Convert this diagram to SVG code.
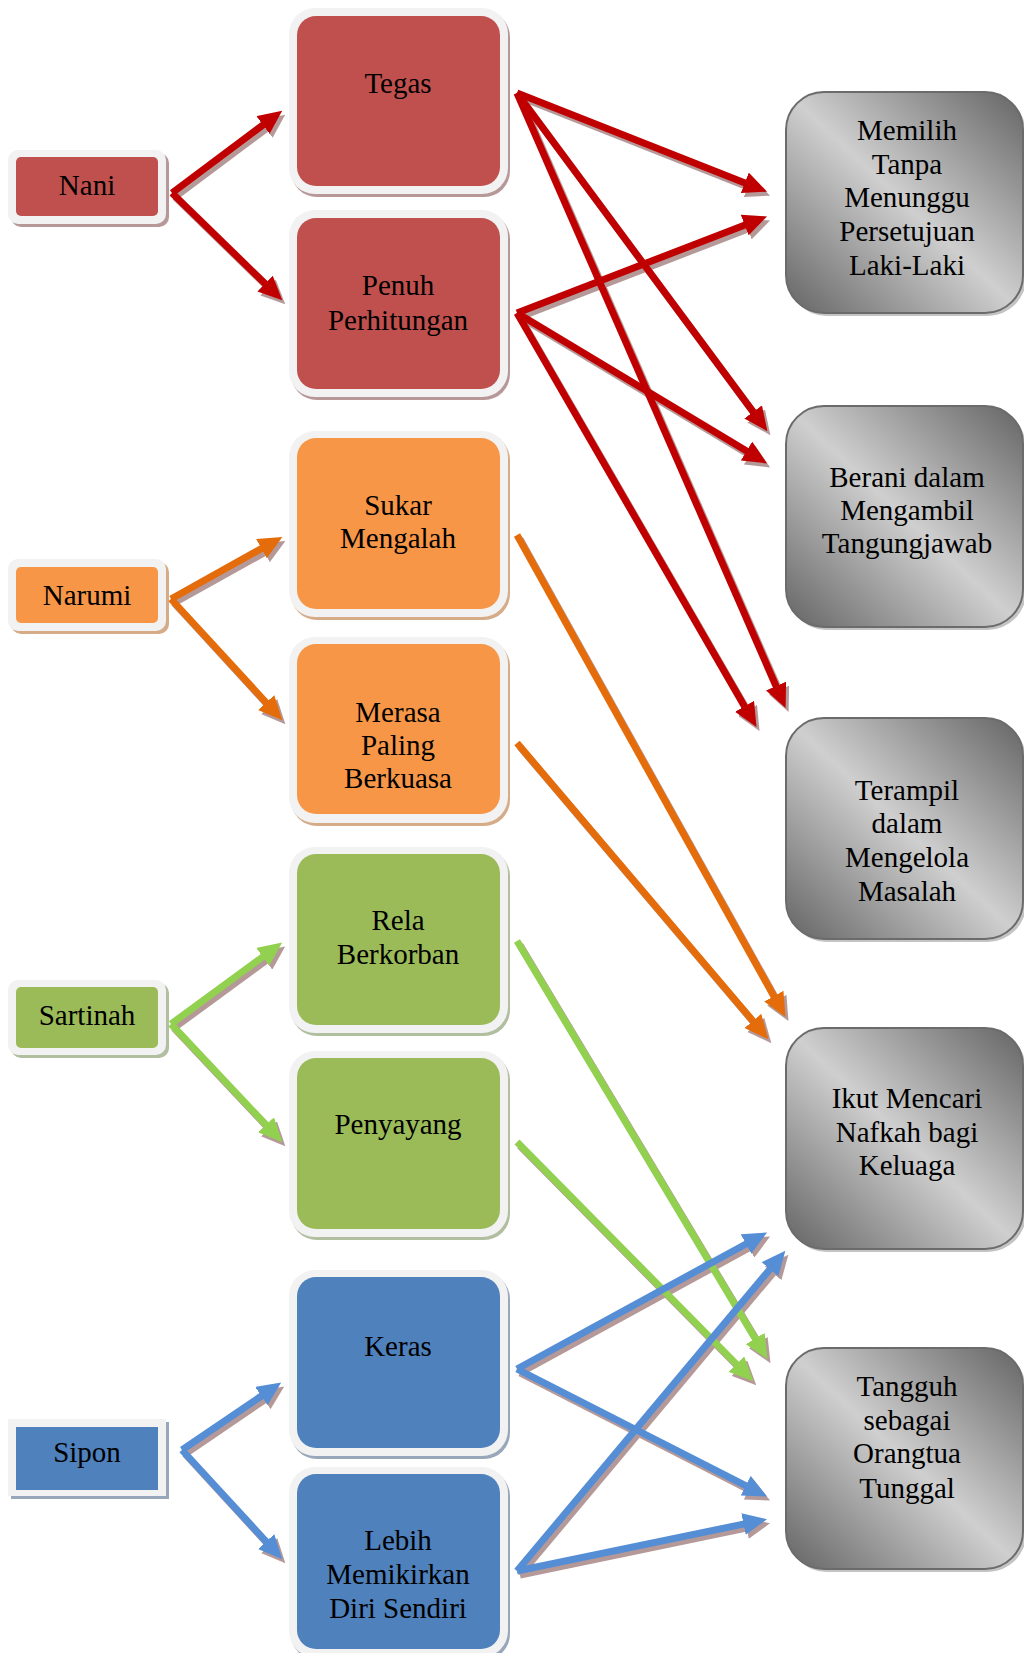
<svg xmlns="http://www.w3.org/2000/svg" width="1024" height="1653" viewBox="0 0 1024 1653">
<style>
.t{font-family:"Liberation Serif","Times New Roman",serif;font-size:29px;fill:#000;text-anchor:middle}
.bw{fill:#F2F2F2}
.rR{fill:#C0504D}.sR{fill:#B79797}
.rO{fill:#F79646}.sO{fill:#D5AB88}
.rG{fill:#9BBB59}.sG{fill:#B1BEA0}
.rB{fill:#4F81BD}.sB{fill:#98A7BA}
.gb{fill:url(#gray);stroke:#6B6B6B;stroke-width:2}
.gs{fill:#C4C4C4}
.cR{stroke:#C00000;stroke-width:7;fill:none}
.cO{stroke:#E46C0A;stroke-width:7;fill:none}
.cG{stroke:#92D050;stroke-width:7;fill:none}
.cB{stroke:#558ED5;stroke-width:7;fill:none}
.cS{stroke:#A98888;stroke-width:7;fill:none;opacity:0.85}
</style>
<defs>
<linearGradient id="gray" x1="1" y1="0" x2="0" y2="1">
<stop offset="0" stop-color="#646464"/>
<stop offset="0.5" stop-color="#CFCFCF"/>
<stop offset="1" stop-color="#646464"/>
</linearGradient>
<marker id="hR" markerUnits="userSpaceOnUse" markerWidth="24" markerHeight="22" viewBox="0 0 24 22" refX="1" refY="11" orient="auto"><path d="M0,0 L24,11 L0,22 z" fill="#C00000"/></marker>
<marker id="hO" markerUnits="userSpaceOnUse" markerWidth="24" markerHeight="22" viewBox="0 0 24 22" refX="1" refY="11" orient="auto"><path d="M0,0 L24,11 L0,22 z" fill="#E46C0A"/></marker>
<marker id="hG" markerUnits="userSpaceOnUse" markerWidth="24" markerHeight="22" viewBox="0 0 24 22" refX="1" refY="11" orient="auto"><path d="M0,0 L24,11 L0,22 z" fill="#92D050"/></marker>
<marker id="hB" markerUnits="userSpaceOnUse" markerWidth="24" markerHeight="22" viewBox="0 0 24 22" refX="1" refY="11" orient="auto"><path d="M0,0 L24,11 L0,22 z" fill="#558ED5"/></marker>
<marker id="hS" markerUnits="userSpaceOnUse" markerWidth="24" markerHeight="22" viewBox="0 0 24 22" refX="1" refY="11" orient="auto"><path d="M0,0 L24,11 L0,22 z" fill="#A98888"/></marker>
</defs>
<rect width="1024" height="1653" fill="#FFFFFF"/>

<!-- Left person nodes -->
<g id="nani">
<rect class="sR" x="11" y="153" width="158" height="74" rx="10"/>
<rect class="bw" x="8" y="150" width="158" height="74" rx="10"/>
<rect class="rR" x="16" y="157" width="142" height="59" rx="5"/>
<text class="t" x="87" y="195">Nani</text>
</g>
<g id="narumi">
<rect class="sO" x="11" y="562" width="158" height="72" rx="10"/>
<rect class="bw" x="8" y="559" width="158" height="72" rx="10"/>
<rect class="rO" x="16" y="567" width="142" height="56" rx="5"/>
<text class="t" x="87" y="605">Narumi</text>
</g>
<g id="sartinah">
<rect class="sG" x="11" y="983" width="158" height="75" rx="10"/>
<rect class="bw" x="8" y="980" width="158" height="75" rx="10"/>
<rect class="rG" x="16" y="987" width="142" height="61" rx="5"/>
<text class="t" x="87" y="1025">Sartinah</text>
</g>
<g id="sipon">
<rect class="sB" x="11" y="1422" width="158" height="77"/>
<rect class="bw" x="8" y="1419" width="158" height="77"/>
<rect class="rB" x="16" y="1427" width="142" height="63"/>
<text class="t" x="87" y="1462">Sipon</text>
</g>

<!-- Middle trait nodes -->
<g id="tegas">
<rect class="sR" x="291" y="11" width="219" height="186" rx="26"/>
<rect class="bw" x="289" y="8" width="219" height="186" rx="26"/>
<rect class="rR" x="297" y="16" width="203" height="170" rx="19"/>
<text class="t" x="398" y="93">Tegas</text>
</g>
<g id="penuh">
<rect class="sR" x="291" y="213" width="219" height="187" rx="26"/>
<rect class="bw" x="289" y="210" width="219" height="187" rx="26"/>
<rect class="rR" x="297" y="218" width="203" height="171" rx="19"/>
<text class="t" x="398" y="295">Penuh</text>
<text class="t" x="398" y="330">Perhitungan</text>
</g>
<g id="sukar">
<rect class="sO" x="291" y="434" width="219" height="186" rx="26"/>
<rect class="bw" x="289" y="431" width="219" height="186" rx="26"/>
<rect class="rO" x="297" y="438" width="203" height="171" rx="19"/>
<text class="t" x="398" y="515">Sukar</text>
<text class="t" x="398" y="548">Mengalah</text>
</g>
<g id="merasa">
<rect class="sO" x="291" y="640" width="219" height="186" rx="26"/>
<rect class="bw" x="289" y="637" width="219" height="186" rx="26"/>
<rect class="rO" x="297" y="644" width="203" height="170" rx="19"/>
<text class="t" x="398" y="722">Merasa</text>
<text class="t" x="398" y="755">Paling</text>
<text class="t" x="398" y="788">Berkuasa</text>
</g>
<g id="rela">
<rect class="sG" x="291" y="850" width="219" height="186" rx="26"/>
<rect class="bw" x="289" y="847" width="219" height="186" rx="26"/>
<rect class="rG" x="297" y="854" width="203" height="171" rx="19"/>
<text class="t" x="398" y="930">Rela</text>
<text class="t" x="398" y="964">Berkorban</text>
</g>
<g id="penyayang">
<rect class="sG" x="291" y="1054" width="219" height="186" rx="26"/>
<rect class="bw" x="289" y="1051" width="219" height="186" rx="26"/>
<rect class="rG" x="297" y="1058" width="203" height="171" rx="19"/>
<text class="t" x="398" y="1134">Penyayang</text>
</g>
<g id="keras">
<rect class="sB" x="291" y="1273" width="219" height="186" rx="26"/>
<rect class="bw" x="289" y="1270" width="219" height="186" rx="26"/>
<rect class="rB" x="297" y="1277" width="203" height="171" rx="19"/>
<text class="t" x="398" y="1356">Keras</text>
</g>
<g id="lebih">
<rect class="sB" x="291" y="1470" width="219" height="190" rx="26"/>
<rect class="bw" x="289" y="1467" width="219" height="190" rx="26"/>
<rect class="rB" x="297" y="1474" width="203" height="175" rx="19"/>
<text class="t" x="398" y="1550">Lebih</text>
<text class="t" x="398" y="1584">Memikirkan</text>
<text class="t" x="398" y="1618">Diri Sendiri</text>
</g>

<!-- Right outcome nodes -->
<g id="memilih">
<rect class="gs" x="788" y="95" width="238" height="221" rx="38"/>
<rect class="gb" x="786" y="92" width="237" height="221" rx="38"/>
<text class="t" x="907" y="140">Memilih</text>
<text class="t" x="907" y="174">Tanpa</text>
<text class="t" x="907" y="207">Menunggu</text>
<text class="t" x="907" y="241">Persetujuan</text>
<text class="t" x="907" y="275">Laki-Laki</text>
</g>
<g id="berani">
<rect class="gs" x="788" y="409" width="238" height="221" rx="38"/>
<rect class="gb" x="786" y="406" width="237" height="221" rx="38"/>
<text class="t" x="907" y="487">Berani dalam</text>
<text class="t" x="907" y="520">Mengambil</text>
<text class="t" x="907" y="553">Tangungjawab</text>
</g>
<g id="terampil">
<rect class="gs" x="788" y="721" width="238" height="221" rx="38"/>
<rect class="gb" x="786" y="718" width="237" height="221" rx="38"/>
<text class="t" x="907" y="800">Terampil</text>
<text class="t" x="907" y="833">dalam</text>
<text class="t" x="907" y="867">Mengelola</text>
<text class="t" x="907" y="901">Masalah</text>
</g>
<g id="ikut">
<rect class="gs" x="788" y="1031" width="238" height="221" rx="38"/>
<rect class="gb" x="786" y="1028" width="237" height="221" rx="38"/>
<text class="t" x="907" y="1108">Ikut Mencari</text>
<text class="t" x="907" y="1142">Nafkah bagi</text>
<text class="t" x="907" y="1175">Keluaga</text>
</g>
<g id="tangguh">
<rect class="gs" x="788" y="1351" width="238" height="221" rx="38"/>
<rect class="gb" x="786" y="1348" width="237" height="221" rx="38"/>
<text class="t" x="907" y="1396">Tangguh</text>
<text class="t" x="907" y="1430">sebagai</text>
<text class="t" x="907" y="1463">Orangtua</text>
<text class="t" x="907" y="1498">Tunggal</text>
</g>

<!-- Connectors -->
<g id="connectors">
<g id="shadows" class="cS" transform="translate(3,4)">
<line x1="172" y1="193" x2="263.8" y2="124.4" marker-end="url(#hS)"/>
<line x1="172" y1="193" x2="265.8" y2="284.3" marker-end="url(#hS)"/>
<line x1="517" y1="93" x2="745.7" y2="183.2" marker-end="url(#hS)"/>
<line x1="517" y1="93" x2="753.7" y2="412.7" marker-end="url(#hS)"/>
<line x1="517" y1="93" x2="776.4" y2="687.0" marker-end="url(#hS)"/>
<line x1="517" y1="313" x2="745.6" y2="224.7" marker-end="url(#hS)"/>
<line x1="517" y1="313" x2="747.4" y2="451.6" marker-end="url(#hS)"/>
<line x1="517" y1="313" x2="745.0" y2="707.2" marker-end="url(#hS)"/>
<line x1="171" y1="599" x2="262.3" y2="548.1" marker-end="url(#hS)"/>
<line x1="171" y1="599" x2="266.8" y2="703.3" marker-end="url(#hS)"/>
<line x1="517" y1="535" x2="774.3" y2="997.0" marker-end="url(#hS)"/>
<line x1="517" y1="743" x2="753.5" y2="1021.7" marker-end="url(#hS)"/>
<line x1="171" y1="1024" x2="263.6" y2="956.2" marker-end="url(#hS)"/>
<line x1="171" y1="1024" x2="266.6" y2="1125.5" marker-end="url(#hS)"/>
<line x1="517" y1="941" x2="755.7" y2="1339.4" marker-end="url(#hS)"/>
<line x1="517" y1="1142" x2="737.1" y2="1364.9" marker-end="url(#hS)"/>
<line x1="182" y1="1450" x2="262.2" y2="1395.5" marker-end="url(#hS)"/>
<line x1="182" y1="1450" x2="266.8" y2="1542.3" marker-end="url(#hS)"/>
<line x1="517" y1="1369" x2="746.9" y2="1243.5" marker-end="url(#hS)"/>
<line x1="517" y1="1369" x2="746.6" y2="1486.1" marker-end="url(#hS)"/>
<line x1="517" y1="1571" x2="770.6" y2="1268.4" marker-end="url(#hS)"/>
<line x1="517" y1="1571" x2="744.5" y2="1523.9" marker-end="url(#hS)"/>
</g>
<g class="cR">
<line x1="172" y1="193" x2="263.8" y2="124.4" marker-end="url(#hR)"/>
<line x1="172" y1="193" x2="265.8" y2="284.3" marker-end="url(#hR)"/>
<line x1="517" y1="93" x2="745.7" y2="183.2" marker-end="url(#hR)"/>
<line x1="517" y1="93" x2="753.7" y2="412.7" marker-end="url(#hR)"/>
<line x1="517" y1="93" x2="776.4" y2="687.0" marker-end="url(#hR)"/>
<line x1="517" y1="313" x2="745.6" y2="224.7" marker-end="url(#hR)"/>
<line x1="517" y1="313" x2="747.4" y2="451.6" marker-end="url(#hR)"/>
<line x1="517" y1="313" x2="745.0" y2="707.2" marker-end="url(#hR)"/>
</g>
<g class="cO">
<line x1="171" y1="599" x2="262.3" y2="548.1" marker-end="url(#hO)"/>
<line x1="171" y1="599" x2="266.8" y2="703.3" marker-end="url(#hO)"/>
<line x1="517" y1="535" x2="774.3" y2="997.0" marker-end="url(#hO)"/>
<line x1="517" y1="743" x2="753.5" y2="1021.7" marker-end="url(#hO)"/>
</g>
<g class="cG">
<line x1="171" y1="1024" x2="263.6" y2="956.2" marker-end="url(#hG)"/>
<line x1="171" y1="1024" x2="266.6" y2="1125.5" marker-end="url(#hG)"/>
<line x1="517" y1="941" x2="755.7" y2="1339.4" marker-end="url(#hG)"/>
<line x1="517" y1="1142" x2="737.1" y2="1364.9" marker-end="url(#hG)"/>
</g>
<g class="cB">
<line x1="182" y1="1450" x2="262.2" y2="1395.5" marker-end="url(#hB)"/>
<line x1="182" y1="1450" x2="266.8" y2="1542.3" marker-end="url(#hB)"/>
<line x1="517" y1="1369" x2="746.9" y2="1243.5" marker-end="url(#hB)"/>
<line x1="517" y1="1369" x2="746.6" y2="1486.1" marker-end="url(#hB)"/>
<line x1="517" y1="1571" x2="770.6" y2="1268.4" marker-end="url(#hB)"/>
<line x1="517" y1="1571" x2="744.5" y2="1523.9" marker-end="url(#hB)"/>
</g>
</g>
</svg>
